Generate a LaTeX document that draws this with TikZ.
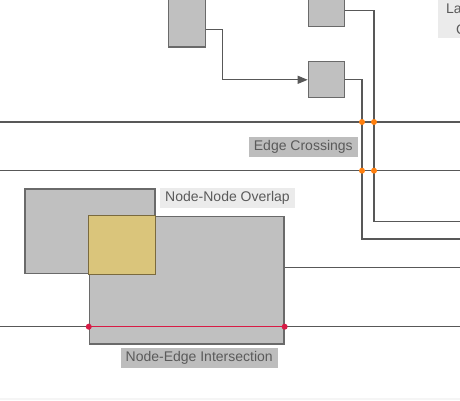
\documentclass[tikz,border=0pt]{standalone}
\usepackage{fontspec}
\setmainfont{Liberation Sans}
\usepackage{tikz}
\usetikzlibrary{arrows.meta,calc,backgrounds}
\definecolor{nodefill}{HTML}{C0C0C0}
\definecolor{nodeline}{HTML}{6A6A6A}
\definecolor{edgeline}{HTML}{585858}
\definecolor{labeldark}{HTML}{BDBDBD}
\definecolor{labellight}{HTML}{EBEBEB}
\definecolor{labeltext}{HTML}{5A5A5A}
\definecolor{overlapfill}{HTML}{DAC57B}
\definecolor{overlapline}{HTML}{7A6A3E}
\definecolor{crossdot}{HTML}{FF7F0E}
\definecolor{hitline}{HTML}{D81B45}
\tikzset{
  graphnode/.style={draw=nodeline, fill=nodefill, line width=1.2pt, inner sep=0pt},
  edge/.style={draw=edgeline, line width=1.2pt},
  issuelabel/.style={fill=#1, text=labeltext, inner xsep=5pt, inner ysep=0pt,
    minimum height=20pt, font=\fontsize{14}{16}\selectfont},
  dot/.style={circle, fill=#1, inner sep=0pt, minimum size=6pt}
}
\begin{document}
\begin{tikzpicture}[x=1pt,y=-1pt]
\useasboundingbox (0,0) rectangle (460,400);
\clip (0,0) rectangle (460,400);
\fill[black!4] (0,398) rectangle (460,400);
% top label, cut by the border
\node[fill=labellight, minimum width=40pt, minimum height=48pt, anchor=north west] (toplabel) at (438,-10) {};
\node[anchor=base west, text=labeltext, font=\fontsize{14}{16}\selectfont] (toplabelA) at (442.5,13) {La};
\node[anchor=base west, text=labeltext, font=\fontsize{14}{16}\selectfont] (toplabelB) at (452.5,34) {C};
% nodes
\node[graphnode, minimum width=37pt, minimum height=67pt] (src) at (186.6,13.5) {};
\node[graphnode, minimum width=36pt, minimum height=32pt] (top) at (326.3,10.3) {};
\node[graphnode, minimum width=36pt, minimum height=36pt] (mid) at (326.3,79.8) {};
\node[graphnode, minimum width=130pt, minimum height=84.7pt] (left) at (90,231.3) {};
\node[graphnode, minimum width=194.7pt, minimum height=127.7pt] (big) at (186.7,280.2) {};
\fill[overlapfill, draw=overlapline, line width=1.2pt] (big.north west) rectangle (left.south east);
% edges
\coordinate (bend) at (222.3,29.3);
\draw[edge, -{Triangle[length=10pt,width=8pt]}] (src.east |- bend) -- (bend) |- (mid.west);
\coordinate (topcorner) at (374,10.3);
\coordinate (topend) at (460,221.7);
\draw[edge] (top.east) -- (topcorner) |- (topend);
\coordinate (midcorner) at (362,79.8);
\coordinate (midend) at (460,239);
\draw[edge] (mid.east) -- (midcorner) |- (midend);
\coordinate (bigend) at (460,267.3);
\draw[edge] (bigend -| big.east) -- (bigend);
\coordinate (rowA) at (0,122);
\coordinate (rowB) at (0,170.7);
\coordinate (rowC) at (0,326.7);
\draw[edge] (rowA) -- ++(460,0);
\draw[edge] (rowB) -- ++(460,0);
\draw[edge] (rowC) -- ++(460,0);
% issues
\foreach \r in {rowA,rowB}
  \foreach \c in {midcorner,topcorner}
    \node[dot=crossdot] at (\r -| \c) {};
\draw[hitline, line width=1.2pt] (rowC -| big.west) -- (rowC -| big.east);
\node[dot=hitline] (hitA) at (rowC -| big.west) {};
\node[dot=hitline] (hitB) at (rowC -| big.east) {};
\node[issuelabel=labeldark] (crossings) at (303.3,147) {Edge Crossings};
\node[issuelabel=labellight] (overlap) at (227.5,197.8) {Node-Node Overlap};
\node[issuelabel=labeldark] (intersect) at (199.2,358) {Node-Edge Intersection};
\end{tikzpicture}
\end{document}
